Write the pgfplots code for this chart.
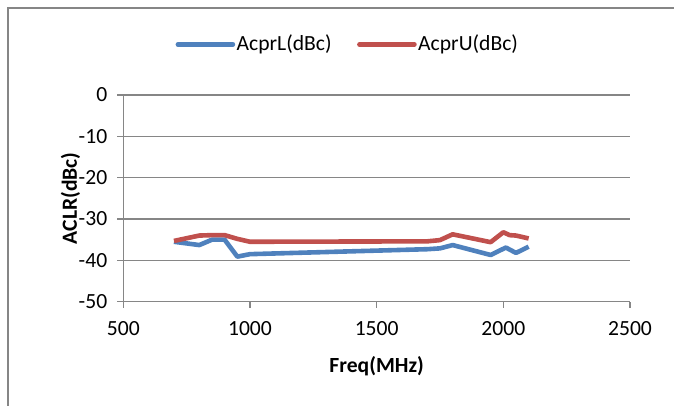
\documentclass[border=0pt]{standalone}
\usepackage{pgfplots}
\pgfplotsset{compat=1.18}
\usepackage{fontspec}
\setmainfont{Carlito}
\definecolor{xblue}{HTML}{4F81BD}
\definecolor{xred}{HTML}{C0504D}
\definecolor{xgrid}{HTML}{868686}
\begin{document}
\begin{tikzpicture}
\useasboundingbox (0,0) rectangle (337bp,203bp);
\begin{axis}[
  at={(61.65bp,52.15bp)}, anchor=south west,
  scale only axis, width=253.35bp, height=103.35bp,
  xmin=500, xmax=2500, ymin=-50, ymax=0,
  xtick={500,1000,1500,2000,2500},
  ytick={-50,-40,-30,-20,-10,0},
  axis x line*=bottom, axis y line*=left,
  axis line style={xgrid, line width=0.6bp},
  tick align=outside, major tick length=3bp,
  tick style={xgrid, line width=0.6bp},
  ymajorgrids, grid style={xgrid, line width=0.6bp},
  /pgf/number format/assume math mode=true,
  /pgf/number format/1000 sep={},
  tick label style={font=\fontsize{10.8bp}{13bp}\selectfont},
  xticklabel style={yshift=-3.5bp},
  yticklabel style={xshift=-1.5bp},
  xlabel={\textbf{Freq(MHz)}},
  ylabel={\textbf{ACLR(dBc)}},
  label style={font=\fontsize{10.8bp}{13bp}\selectfont},
  xlabel style={at={(axis description cs:0.5,-0.311)}, anchor=center},
  ylabel style={at={(axis description cs:-0.104,0.5)}, anchor=center},
  legend columns=2,
  legend image code/.code={\draw[#1, line cap=round] (0bp,0bp) -- (27.5bp,0bp);},
  legend style={at={(0.4425,1.245)}, anchor=center, draw=none, fill=none,
    font=\fontsize{10.8bp}{13bp}\selectfont,
    nodes={inner sep=0.75bp},
    /tikz/every even column/.append style={column sep=12bp}},
  clip=false,
]
\addplot[xblue, line width=2.3bp, line join=round] coordinates {
(700,-35.5) (800,-36.3) (850,-35.0) (900,-35.0) (950,-39.1) (1000,-38.5)
(1700,-37.3) (1750,-37.1) (1800,-36.3) (1950,-38.7) (2010,-36.9)
(2050,-38.2) (2100,-36.7)};
\addlegendentry{AcprL(dBc)}
\addplot[xred, line width=2.3bp, line join=round] coordinates {
(700,-35.3) (800,-34.0) (850,-33.9) (900,-33.9) (950,-34.8) (1000,-35.5)
(1700,-35.4) (1750,-35.1) (1800,-33.7) (1950,-35.6) (2000,-33.2)
(2025,-33.9) (2050,-34.0) (2100,-34.7)};
\addlegendentry{AcprU(dBc)}
\end{axis}
\draw[xgrid, line width=0.6bp] (4bp,-5bp) -- (4bp,199bp) -- (345bp,199bp);
\end{tikzpicture}
\end{document}
